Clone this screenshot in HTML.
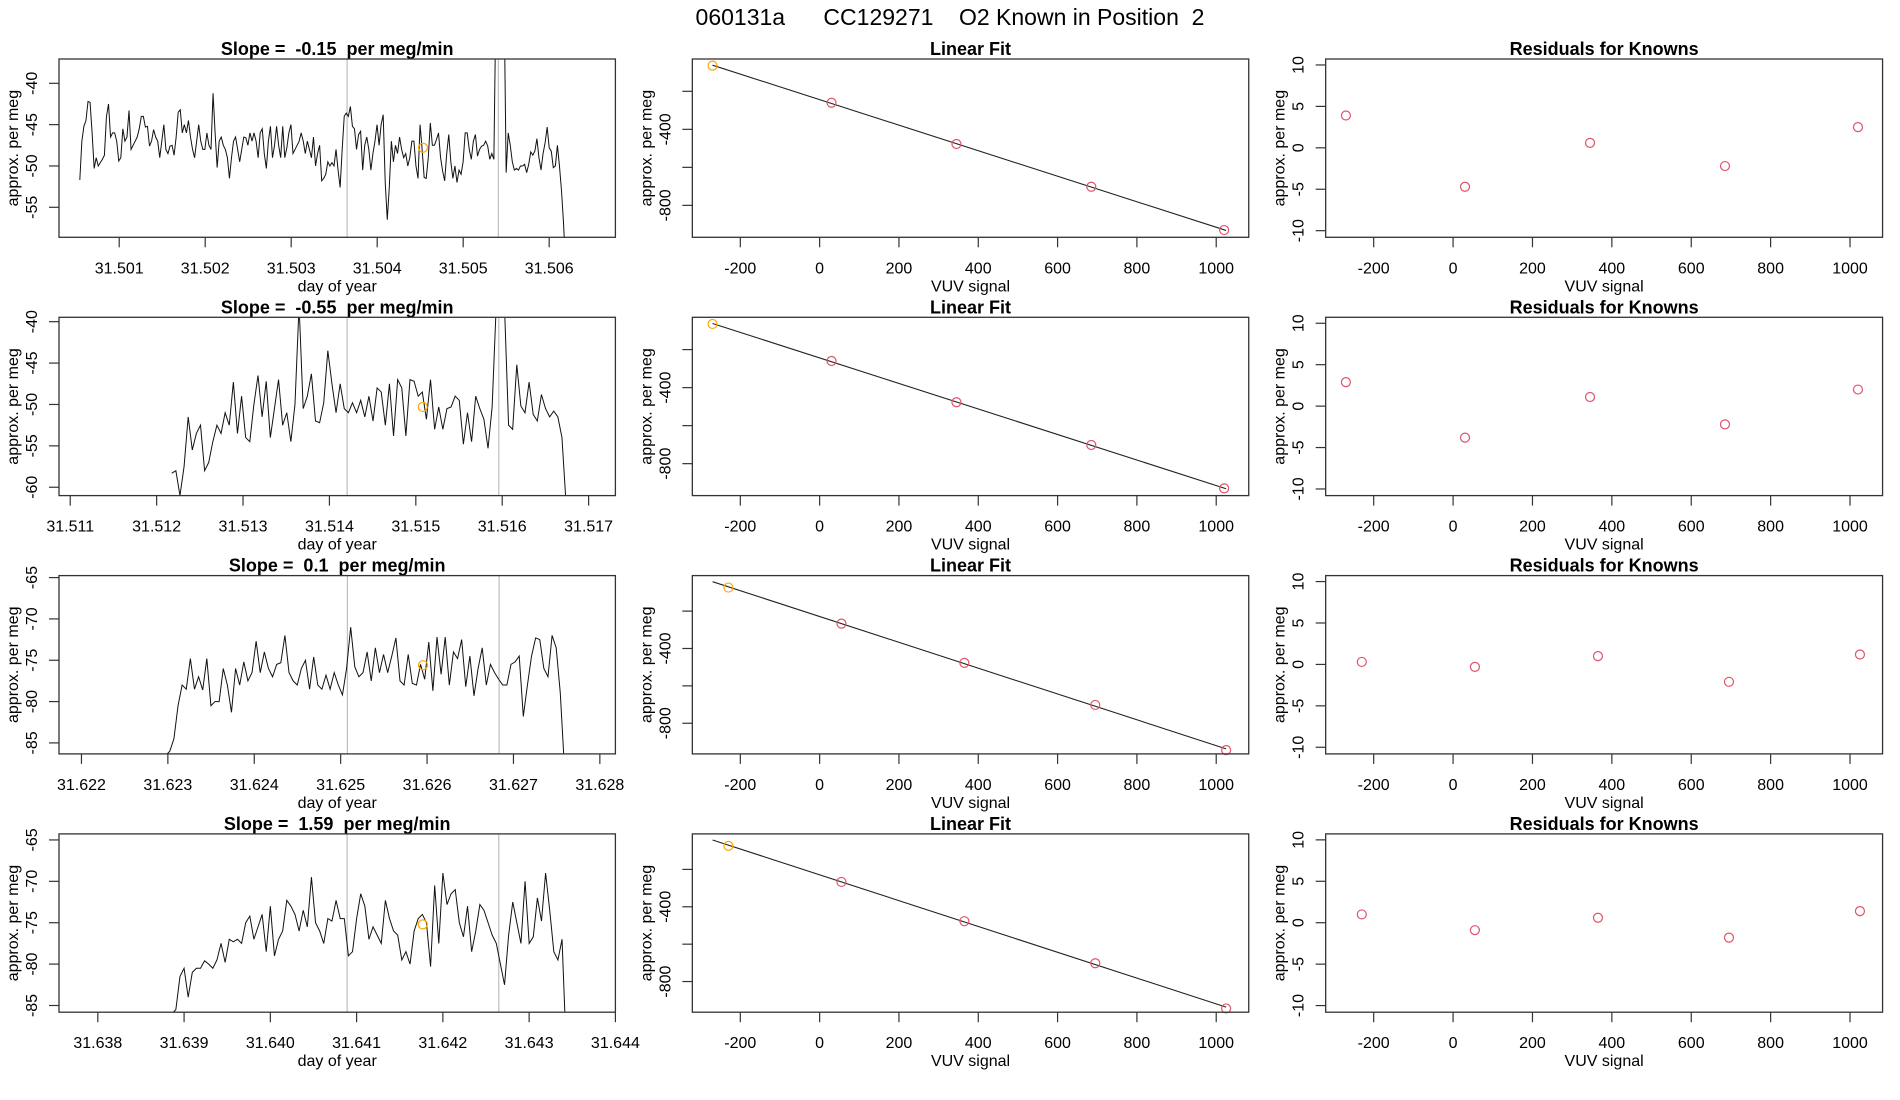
<!DOCTYPE html>
<html><head><meta charset="utf-8"><style>
html,body{margin:0;padding:0;background:#fff;}
svg{display:block;font-family:"Liberation Sans",sans-serif;}
svg text{white-space:pre;}
</style></head><body>
<svg id="chart" width="1900" height="1100" viewBox="0 0 1900 1100" xmlns="http://www.w3.org/2000/svg" xml:space="preserve">
<rect width="1900" height="1100" fill="#fff"/>
<text x="950" y="25" font-size="23" text-anchor="middle">060131a      CC129271    O2 Known in Position  2</text>
</svg>
<script>
// ---- time series data (approx. per meg), evenly spaced between start/end day ----
const slopeLabels = ["-0.15", "-0.55", "0.1", "1.59"];
const tsStart = [31.500542, 31.512175, 31.622975, 31.638857];
const tsEnd = [31.506191, 31.516739, 31.627590, 31.643429];
const xDomainLo = [31.50030, 31.51087, 31.62174, 31.63755];
const xDomainHi = [31.50677, 31.51731, 31.62818, 31.64400];
const yDomainLo = [-58.63, -61.01, -86.33, -85.81];
const yDomainHi = [-37.06, -39.47, -64.76, -64.27];
const xTickStart = [31.501, 31.511, 31.622, 31.638];
const xTickCount = [6, 7, 7, 7];
const yTicks = [[-40,-45,-50,-55],[-40,-45,-50,-55,-60],[-65,-70,-75,-80,-85],[-65,-70,-75,-80,-85]];
const greyLineA = [31.50365, 31.514205, 31.625078, 31.64089];
const greyLineB = [31.505409, 31.51596, 31.626834, 31.642648];
const orangeDay = [31.504532, 31.51508, 31.625953, 31.641767];
const orangeVal = [-47.8, -50.3, -75.6, -75.2];
const series1 = [-51.7,-47,-45.2,-44.5,-42.2,-42.3,-46,-50.3,-49,-50,-49.6,-49.2,-48.7,-44,-42.5,-46.5,-46,-46,-47,-49.4,-49,-45.5,-47,-46.5,-43.3,-48,-47.5,-47,-46.5,-45.5,-44,-44,-45.3,-45.2,-47.6,-47,-45.6,-46.5,-47,-49,-47,-45,-48,-48.5,-47.6,-47.5,-48.7,-46.5,-43.5,-43.2,-46,-45,-46,-44.5,-46.5,-48,-49,-47,-45,-47,-48,-48,-46,-47.5,-48,-41.2,-46,-50.2,-47,-46.5,-47.5,-48,-49,-51.5,-49,-47,-46.5,-48,-49.5,-48,-46.5,-46.6,-47.5,-46,-47,-46,-47,-49,-46,-45.5,-48.5,-50.3,-47,-45.2,-49,-47.5,-45.2,-47.5,-49,-45.2,-49,-47.8,-46,-45,-48.5,-48,-47.5,-47,-46,-47,-48.5,-47,-48,-49,-46.5,-50,-48.5,-47.5,-51.8,-51.5,-51,-49.5,-50,-49.6,-50,-48,-50.5,-52.6,-48,-44,-43.6,-44,-42.8,-45.2,-45.5,-48,-46.2,-45.8,-50.5,-47.5,-46.5,-48,-50.5,-48.5,-47,-45,-47.5,-45,-43.8,-52,-56.5,-52.5,-47,-49.5,-47.5,-48.5,-46.5,-48,-49,-48.5,-50,-49,-47,-47,-50,-51.5,-45,-48,-51.4,-51.5,-49,-44.8,-47.5,-47.5,-46.8,-46,-49,-50.6,-51.8,-48.5,-46.2,-49.5,-51.5,-50,-52,-50.5,-51,-49.5,-46,-46,-48,-49.2,-47,-46.2,-48.8,-48,-47.6,-47.5,-47,-47.6,-49.2,-48.5,-49.2,-30,-30,-30,-30,-30,-50.8,-46,-47.5,-49.5,-50.5,-50.3,-50.5,-50,-50,-49.8,-50.8,-49.8,-48.3,-48.7,-48.2,-46.7,-49,-50.5,-48.5,-47.2,-45.3,-47.8,-48.2,-50.2,-50,-47.5,-50,-53,-57,-62];
const series2 = [-58.3,-58,-61,-57.5,-51.5,-55.5,-53.5,-52.5,-58,-57,-54.5,-52.5,-53.5,-51,-52.5,-47.3,-53.5,-49,-54,-54.5,-50,-46.5,-51.5,-47.2,-54,-50.5,-47,-52.5,-51,-54.5,-50,-38,-50.5,-49,-46.3,-52,-52.2,-49.8,-43.5,-47.5,-51,-47.5,-50.5,-51,-49.8,-51,-49.5,-51.5,-49,-52,-48,-48.5,-52.5,-47.5,-53.8,-47,-48,-53.8,-47,-47.2,-49,-48.5,-51.8,-47,-53,-50.3,-53,-50.5,-50.3,-49,-49.5,-54.8,-51,-54.5,-49,-50.5,-51.8,-55.3,-50.3,-38,-38,-38,-52.5,-53,-45.2,-50.2,-51,-47.3,-51.2,-52,-48.8,-50.5,-51.5,-50.8,-51.5,-54,-62];
const series3 = [-86.5,-86,-84.5,-80.5,-78,-78.5,-74.8,-78.5,-77,-78.6,-74.8,-80.5,-80,-80,-76,-78,-81.3,-76,-78,-75.2,-77.5,-76.5,-72.7,-76.5,-74,-76,-77,-75.5,-75.3,-72,-76.5,-77.5,-78,-76,-75,-78.5,-74.6,-78,-78.5,-76.8,-78.5,-76.5,-78,-79.2,-76,-71,-75.8,-77,-76.5,-74,-77.5,-73.5,-76.5,-74.3,-76.5,-74.5,-72.3,-77.5,-78,-74.3,-77.8,-78,-75.5,-77.3,-72.8,-78.7,-72.2,-76.7,-72.2,-78,-74,-74.8,-72.5,-78.2,-74.5,-79.3,-76,-73.5,-78,-75.5,-76.5,-77.3,-78,-78,-75.5,-75.2,-74.5,-81.8,-78,-74.5,-72.3,-72.5,-76,-77,-72,-73.5,-79,-88];
const series4 = [-86,-85.5,-81.5,-80.5,-84,-81,-80.5,-80.5,-79.6,-80,-80.5,-79.5,-77.5,-79.8,-77,-77.3,-77,-77.5,-75,-74.2,-77,-75.5,-74,-78.5,-73,-79,-77,-76,-72.3,-73,-74,-76,-73.5,-75.5,-69.5,-75,-76,-77.5,-74.5,-74.8,-72.3,-74.5,-74.5,-79,-78.5,-74.5,-71.5,-73,-77,-75.5,-76.5,-77.5,-72.3,-74.5,-76,-76.5,-79.5,-78.5,-80,-76,-74.5,-74,-75,-80.3,-70.5,-77.5,-69,-72.8,-71.5,-71,-75,-76.7,-73,-78.5,-76,-72.8,-73.5,-75,-76.5,-77.5,-80,-82.5,-76.5,-72.5,-75,-77.5,-70,-77.5,-76.7,-72,-74.8,-69,-73.5,-78.5,-79.5,-77,-90];
const allSeries = [series1, series2, series3, series4];
// ---- linear fit data ----
const vuv1 = [-270, 30, 345, 685, 1020];
const meg1 = [-65, -260, -477, -702, -930];
const vuv2 = [-270, 30, 345, 685, 1020];
const meg2 = [-65, -260, -477, -702, -930];
const vuv3 = [-230, 55, 365, 695, 1025];
const meg3 = [-74, -267, -477, -702, -944];
const vuv4 = [-230, 55, 365, 695, 1025];
const meg4 = [-74, -267, -477, -702, -944];
const fitX = [vuv1, vuv2, vuv3, vuv4];
const fitY = [meg1, meg2, meg3, meg4];
const fitYTop = [-30, -30, -10, -10];
const fitYBot = [-968, -968, -964, -964];
const fitYTicks = [-200, -400, -600, -800];
const fitYTickLabels = ["", "-400", "", "-800"];
const vuvTicks = [-200, 0, 200, 400, 600, 800, 1000];
// ---- residuals ----
const resid1 = [3.9, -4.7, 0.6, -2.2, 2.5];
const resid2 = [2.9, -3.8, 1.1, -2.2, 2.0];
const resid3 = [0.3, -0.3, 1.0, -2.1, 1.2];
const resid4 = [1.0, -0.9, 0.6, -1.8, 1.4];
const allResid = [resid1, resid2, resid3, resid4];
const residTicks = [10, 5, 0, -5, -10];

const NS = "http://www.w3.org/2000/svg";
const svg = document.getElementById("chart");
function mk(tag, attrs, parent) {
  const e = document.createElementNS(NS, tag);
  for (const k in attrs) e.setAttribute(k, attrs[k]);
  (parent || svg).appendChild(e);
  return e;
}
const COLW = 1900 / 3, BOXL = 59, BOXR = 615.4, ROWTOP = 59, ROWH = 258.3, BOXH = 178.3;
const RED = "#DF536B", ORANGE = "#FFA500";

function panelFrame(g, L, T, R, B, title, xlab) {
  const t = mk("text", {x: (L + R) / 2, y: T - 4, "font-size": 18, "font-weight": "bold", "text-anchor": "middle"}, g);
  t.textContent = title;
  
  
  const xl = mk("text", {x: (L + R) / 2, y: B + 54, "font-size": 16, "text-anchor": "middle"}, g);
  xl.textContent = xlab;
  
  
  const yl = mk("text", {transform: `translate(${L - 41},${(T + B) / 2}) rotate(-90)`, "font-size": 16, "text-anchor": "middle"}, g);
  yl.textContent = "approx. per meg";
  
  
}
function xTick(g, x, B, label) {
  const l = mk("line", {x1: x, x2: x, y1: B, y2: B + 10, stroke: "#333", "stroke-width": 1.2}, g);
  
  
  const t = mk("text", {x: x, y: B + 36, "font-size": 16, "text-anchor": "middle"}, g);
  t.textContent = label;
  
  
}
function yTick(g, y, L, label) {
  const l = mk("line", {x1: L - 10, x2: L, y1: y, y2: y, stroke: "#333", "stroke-width": 1.2}, g);
  
  
  if (label !== "") {
    const t = mk("text", {transform: `translate(${L - 22},${y}) rotate(-90)`, "font-size": 16, "text-anchor": "middle"}, g);
    t.textContent = label;
    
    
  }
}
function box(g, L, T, R, B) {
  const r = mk("rect", {x: L, y: T, width: R - L, height: B - T, fill: "none", stroke: "#333", "stroke-width": 1.3}, g);
  
  
}

for (let r = 0; r < 4; r++) {
  const T = ROWTOP + r * ROWH, B = T + BOXH;
  {
    const L = BOXL, R = BOXR;
    const g = mk("g", {});
    
    
    const sx = d => L + (d - xDomainLo[r]) / (xDomainHi[r] - xDomainLo[r]) * (R - L);
    const sy = v => B - (v - yDomainLo[r]) / (yDomainHi[r] - yDomainLo[r]) * (B - T);
    panelFrame(g, L, T, R, B, "Slope =  " + slopeLabels[r] + "  per meg/min", "day of year");
    const cid = "clip" + r;
    const cp = mk("clipPath", {id: cid}, g);
    mk("rect", {x: L, y: T, width: R - L, height: B - T}, cp);
    const inner = mk("g", {"clip-path": `url(#${cid})`}, g);
    for (const d of [greyLineA[r], greyLineB[r]]) {
      const gl = mk("line", {x1: sx(d), x2: sx(d), y1: T, y2: B, stroke: "#bebebe", "stroke-width": 1.2}, inner);
      
      
    }
    const s = allSeries[r], n = s.length;
    const pts = s.map((v, i) => sx(tsStart[r] + (tsEnd[r] - tsStart[r]) * i / (n - 1)).toFixed(2) + "," + sy(v).toFixed(2)).join(" ");
    const pl = mk("polyline", {points: pts, fill: "none", stroke: "#111", "stroke-width": 1}, inner);
    
    
    const oc = mk("circle", {cx: sx(orangeDay[r]), cy: sy(orangeVal[r]), r: 4.5, fill: "none", stroke: ORANGE, "stroke-width": 1.2}, inner);
    
    
    box(g, L, T, R, B);
    for (let k = 0; k <= xTickCount[r]; k++) {
      const d = xTickStart[r] + k * 0.001;
      if (d > xDomainHi[r] + 1e-7) break;
      xTick(g, sx(d), B, d.toFixed(3));
    }
    for (const v of yTicks[r]) yTick(g, sy(v), L, String(v));
  }
  {
    const L = COLW + BOXL, R = COLW + BOXR;
    const g = mk("g", {});
    
    
    const sx = v => L + (v + 321) / (1082 + 321) * (R - L);
    const sy = v => B - (v - fitYBot[r]) / (fitYTop[r] - fitYBot[r]) * (B - T);
    panelFrame(g, L, T, R, B, "Linear Fit", "VUV signal");
    const xs = fitX[r], ys = fitY[r], n = xs.length;
    const mx = xs.reduce((a, b) => a + b) / n, my = ys.reduce((a, b) => a + b) / n;
    let sxy = 0, sxx = 0;
    for (let i = 0; i < n; i++) { sxy += (xs[i] - mx) * (ys[i] - my); sxx += (xs[i] - mx) ** 2; }
    const b1 = sxy / sxx, b0 = my - b1 * mx;
    const ln = mk("line", {x1: sx(-270), y1: sy(b0 + b1 * -270), x2: sx(1025), y2: sy(b0 + b1 * 1025), stroke: "#222", "stroke-width": 1.1}, g);
    
    
    for (let i = 0; i < n; i++) {
      const c = mk("circle", {cx: sx(xs[i]), cy: sy(ys[i]), r: 4.5, fill: "none", stroke: i === 0 ? ORANGE : RED, "stroke-width": 1.2}, g);
      
      
    }
    box(g, L, T, R, B);
    for (const v of vuvTicks) xTick(g, sx(v), B, String(v));
    fitYTicks.forEach((v, i) => yTick(g, sy(v), L, fitYTickLabels[i]));
  }
  {
    const L = 2 * COLW + BOXL, R = 2 * COLW + BOXR + 0.5;
    const g = mk("g", {});
    
    
    const sx = v => L + (v + 321) / (1082 + 321) * (R - L);
    const sy = v => B - (v + 10.8) / (10.72 + 10.8) * (B - T);
    panelFrame(g, L, T, R, B, "Residuals for Knowns", "VUV signal");
    const xs = fitX[r], res = allResid[r];
    for (let i = 0; i < xs.length; i++) {
      const c = mk("circle", {cx: sx(xs[i]), cy: sy(res[i]), r: 4.5, fill: "none", stroke: RED, "stroke-width": 1.2}, g);
      
      
    }
    box(g, L, T, R, B);
    for (const v of vuvTicks) xTick(g, sx(v), B, String(v));
    for (const v of residTicks) yTick(g, sy(v), L, String(v));
  }
}
</script>
</body></html>
